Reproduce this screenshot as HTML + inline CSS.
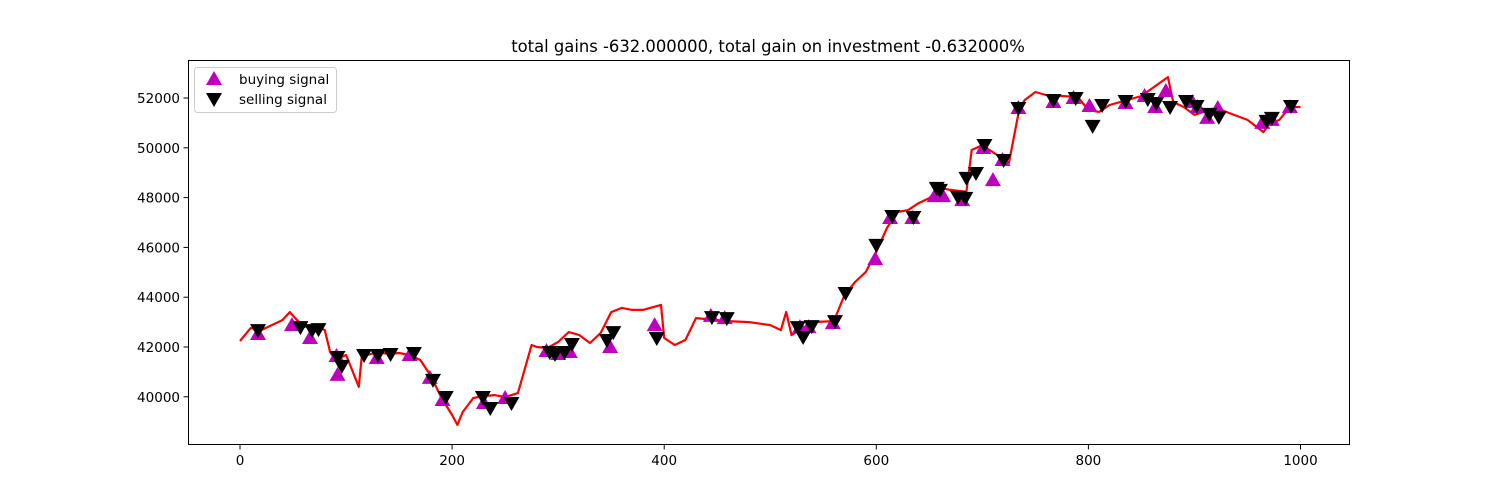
<!DOCTYPE html>
<html><head><meta charset="utf-8"><style>
body{margin:0;background:#fff;}
svg{display:block;font-family:"DejaVu Sans","Liberation Sans",sans-serif;}
</style></head><body>
<svg id="chart" width="1500" height="500" viewBox="0 0 1500 500">
<rect width="1500" height="500" fill="#fff"/>
<text x="768" y="52" text-anchor="middle" font-size="16.4" fill="#000">total gains -632.000000, total gain on investment -0.632000%</text>
<g id="axes"></g>
<g id="series"></g>
<rect x="188.5" y="60.5" width="1161" height="384" fill="none" stroke="#000" stroke-width="1"/>
<g>
<rect x="194.5" y="67.5" width="142" height="45" rx="3" fill="#fff" fill-opacity="0.8" stroke="#ccc"/>
<polygon points="214,71 206,85 222,85" fill="#bf00bf"/>
<text x="239" y="84" font-size="13.5">buying signal</text>
<polygon points="206,93 222,93 214,107" fill="#000"/>
<text x="239" y="104" font-size="13.5">selling signal</text>
</g>
</svg>
<script>
const priceIdx=[0,10,20,30,40,47,60,70,80,85,90,100,112,115,120,130,140,150,160,170,180,190,200,205,210,220,230,240,250,262,275,280,290,300,310,320,330,340,350,360,370,380,397,400,410,420,430,440,460,480,500,510,515,520,540,560,570,580,590,600,610,620,630,640,650,660,670,685,690,700,725,735,740,750,760,790,800,810,820,850,875,880,890,900,920,950,965,970,980,990,1000];
const priceVal=[42240,42760,42680,42880,43080,43400,42800,42880,42680,41800,41480,41680,40400,41720,41680,41800,41720,41760,41680,41480,40840,39950,39270,38870,39390,39950,40030,40070,39990,40150,42080,42000,41960,42200,42600,42480,42160,42560,43400,43570,43490,43490,43690,42360,42080,42280,43160,43120,43040,43000,42880,42680,43410,42480,43000,43040,44090,44610,45010,45820,46780,47420,47500,47780,47980,48390,48310,48230,49910,50110,49390,51600,51920,52240,52120,52040,51520,51440,51720,52080,52840,51840,51640,51320,51600,51120,50630,50920,51120,51640,51640];
const buyIdx=[17,49,66,91,92,129,160,179,191,230,250,289,300,311,349,391,444,457,528,536,559,599,613,634,655,663,681,701,710,719,734,767,786,801,835,853,863,873,898,903,912,922,964,973,990];
const buyVal=[42520,42880,42360,41640,40880,41560,41680,40760,39870,39750,39950,41840,41720,41800,42000,42880,43250,43160,42800,42800,42960,45530,47180,47180,48060,48060,47900,49990,48700,49510,51600,51840,52000,51680,51800,52080,51640,52280,51840,51640,51200,51600,51000,51120,51640];
const sellIdx=[17,57,68,74,92,96,117,130,142,164,182,194,229,236,256,292,297,306,313,346,352,393,445,459,526,531,539,561,571,600,615,635,657,660,677,684,685,694,702,720,734,767,788,804,813,835,856,864,877,892,902,914,923,968,973,991];
const sellVal=[42680,42800,42680,42720,41600,41240,41680,41680,41720,41760,40680,39990,39990,39550,39750,41800,41720,41800,42120,42280,42600,42360,43200,43160,42800,42400,42840,43040,44170,46100,47260,47220,48390,48310,48030,47990,48790,48990,50110,49510,51600,51920,52000,50880,51720,51880,51960,51800,51640,51880,51680,51360,51240,51080,51200,51680];
const xTicks=[0,200,400,600,800,1000];
const yTicks=[40000,42000,44000,46000,48000,50000,52000];

const NS="http://www.w3.org/2000/svg";
function X(i){return 240+i*1.0605;}
function Y(v){return 98+(52000-v)/40.16;}
const axes=document.getElementById('axes');
const series=document.getElementById('series');
function mk(tag,attrs,parent){const e=document.createElementNS(NS,tag);for(const k in attrs)e.setAttribute(k,attrs[k]);parent.appendChild(e);return e;}

xTicks.forEach(t=>{
  const x=X(t);
  const l=mk('line',{x1:x,x2:x,y1:445,y2:449.5,stroke:'#000'},axes);
  
  
  const tx=mk('text',{x:x,y:465,'text-anchor':'middle','font-size':'13.5'},axes);
  tx.textContent=t;
  
  
});
yTicks.forEach(t=>{
  const y=Y(t);
  const l=mk('line',{x1:183.5,x2:188,y1:y,y2:y,stroke:'#000'},axes);
  
  
  const tx=mk('text',{x:180,y:y+5,'text-anchor':'end','font-size':'13.5'},axes);
  tx.textContent=t;
  
  
});

const pts=priceIdx.map((i,k)=>X(i).toFixed(1)+','+Y(priceVal[k]).toFixed(1)).join(' ');
const line=mk('polyline',{points:pts,fill:'none',stroke:'#ff0000','stroke-width':2.2,'stroke-linejoin':'round'},series);



buyIdx.forEach((i,k)=>{
  const x=X(i),y=Y(buyVal[k]);
  const p=mk('polygon',{points:`${x},${y-8} ${x-8},${y+6} ${x+8},${y+6}`,fill:'#bf00bf'},series);
  
  
});
sellIdx.forEach((i,k)=>{
  const x=X(i),y=Y(sellVal[k]);
  const p=mk('polygon',{points:`${x-8},${y-6} ${x+8},${y-6} ${x},${y+8}`,fill:'#000'},series);
  
  
});
</script>
</body></html>
